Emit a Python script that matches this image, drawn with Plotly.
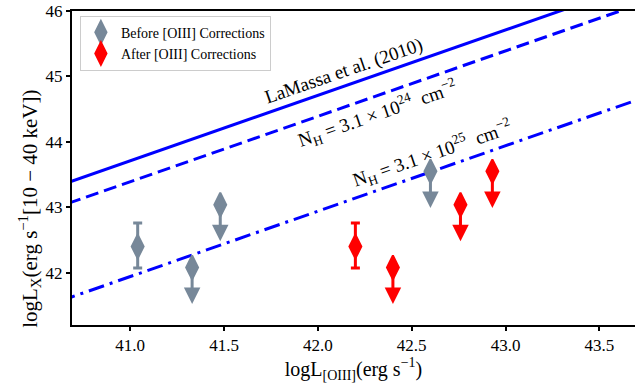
import plotly.graph_objects as go

# [OIII] luminosities before / after the [OIII] correction, and hard X-ray luminosities
loiii_before = [41.04, 41.33, 41.48, 42.60]
loiii_after = [42.20, 42.40, 42.76, 42.93]
lx = [42.40, 42.08, 43.04, 43.55]
lx_err_plus = [0.36, 0.0, 0.0, 0.0]
lx_err_minus = [0.33, 0.0, 0.0, 0.0]
is_upper_limit = [False, True, True, True]
uplim_length = 0.56

# Reference relations (endpoints across the plotted range)
rel_x = [40.0, 44.5]
lamassa_y = [42.71, 47.21]
nh24_y = [42.39, 46.89]
nh25_y = [40.94, 45.44]

GRAY = "#778899"
RED = "#ff0000"
BLUE = "#0000ff"
FONT = "Liberation Serif"

fig = go.Figure()

for ys, dash in [(lamassa_y, "solid"), (nh24_y, "13px,6px"), (nh25_y, "16px,6px,3px,6px")]:
    fig.add_trace(go.Scatter(x=rel_x, y=ys, mode="lines", showlegend=False,
                             line=dict(color=BLUE, width=3, dash=dash), hoverinfo="skip"))


def add_sample(xs, color, name):
    det = [i for i, u in enumerate(is_upper_limit) if not u]
    lim = [i for i, u in enumerate(is_upper_limit) if u]
    marker = dict(symbol="diamond-tall", size=17, color=color, line=dict(width=2, color=color))
    # detections with error bars
    fig.add_trace(go.Scatter(
        x=[xs[i] for i in det], y=[lx[i] for i in det], mode="markers", marker=marker,
        error_y=dict(type="data", array=[lx_err_plus[i] for i in det],
                     arrayminus=[lx_err_minus[i] for i in det],
                     color=color, thickness=3, width=4.5),
        name=name, showlegend=False))
    # upper limits: arrows pointing down
    for i in lim:
        fig.add_annotation(x=xs[i], y=lx[i] - uplim_length, ax=xs[i], ay=lx[i],
                           xref="x", yref="y", axref="x", ayref="y", text="",
                           showarrow=True, arrowhead=2, arrowsize=1.1, arrowwidth=3,
                           arrowcolor=color)
    fig.add_trace(go.Scatter(
        x=[xs[i] for i in lim], y=[lx[i] for i in lim], mode="markers", marker=marker,
        name=name, showlegend=True))


add_sample(loiii_before, GRAY, "Before [OIII] Corrections")
add_sample(loiii_after, RED, "After [OIII] Corrections")

annot_font = dict(family=FONT, size=19, color="black")
fig.add_annotation(x=42.14, y=45.08, xref="x", yref="y", text="LaMassa et al. (2010)",
                   showarrow=False, textangle=-19, font=annot_font)
fig.add_annotation(x=42.32, y=44.44, xref="x", yref="y",
                   text="N<sub>H</sub> = 3.1 × 10<sup>24</sup>  cm<sup>−2</sup>",
                   showarrow=False, textangle=-19, font=annot_font)
fig.add_annotation(x=42.61, y=43.82, xref="x", yref="y",
                   text="N<sub>H</sub> = 3.1 × 10<sup>25</sup>  cm<sup>−2</sup>",
                   showarrow=False, textangle=-19, font=annot_font)

# y-axis label
fig.add_annotation(x=-42 / 563, y=0.37, xref="paper", yref="paper",
                   xanchor="center", yanchor="middle",
                   text="logL<sub>X</sub>(erg s<sup>−1</sup>[10 − 40 keV])", showarrow=False,
                   textangle=-90, font=dict(family=FONT, size=21, color="black"))

fig.update_layout(
    width=635, height=385,
    margin=dict(l=72, r=0, t=11, b=60),
    paper_bgcolor="white", plot_bgcolor="white",
    font=dict(family=FONT, size=17, color="black"),
    legend=dict(x=0.014, y=0.985, xanchor="left", yanchor="top", tracegroupgap=0,
                bgcolor="rgba(255,255,255,0.8)", bordercolor="#cccccc", borderwidth=1,
                font=dict(family=FONT, size=14)),
)
fig.update_xaxes(range=[40.69, 43.69], tickvals=[41.0, 41.5, 42.0, 42.5, 43.0, 43.5],
                 ticktext=["41.0", "41.5", "42.0", "42.5", "43.0", "43.5"],
                 showgrid=False, zeroline=False, showline=True, linecolor="black", linewidth=2,
                 mirror=True, ticks="outside", ticklen=4, tickwidth=1.5, tickcolor="black",
                 title=dict(text="logL<sub>[OIII]</sub>(erg s<sup>−1</sup>)", font=dict(size=20),
                            standoff=4))
fig.update_yaxes(range=[41.2, 46.0], tickvals=[42, 43, 44, 45, 46],
                 showgrid=False, zeroline=False, showline=True, linecolor="black", linewidth=2,
                 ticks="outside", ticklen=4, tickwidth=1.5, tickcolor="black")

fig.write_html("out.html")
